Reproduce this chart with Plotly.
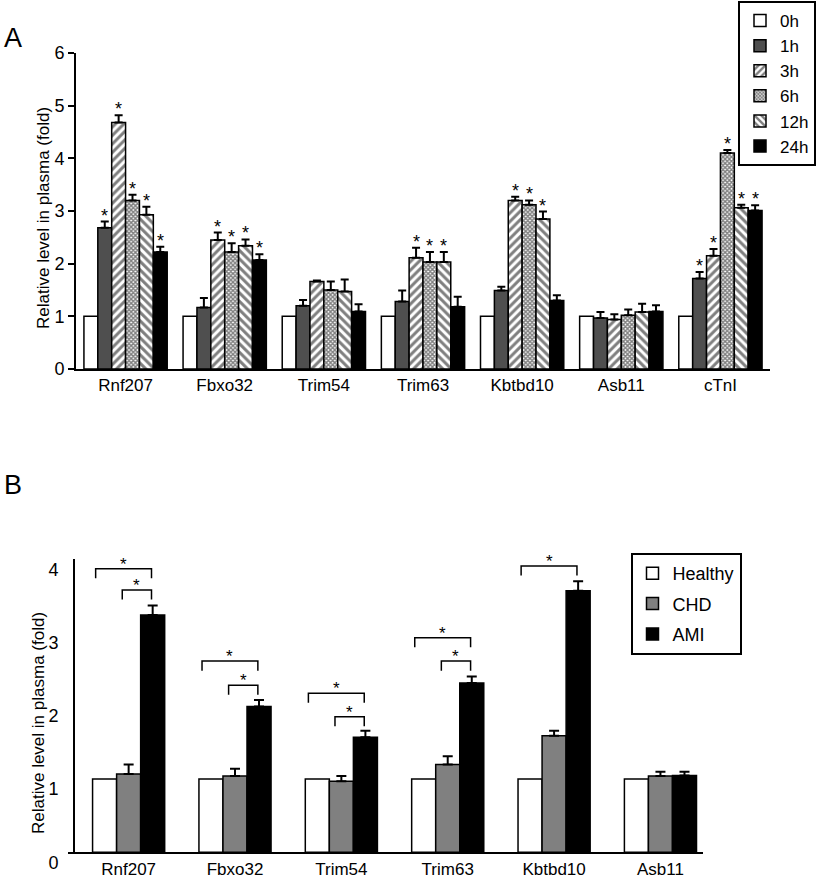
import plotly.graph_objects as go

# ---------------- Panel A data ----------------
cats_a = ["Rnf207", "Fbxo32", "Trim54", "Trim63", "Kbtbd10", "Asb11", "cTnI"]
series_a = ["0h", "1h", "3h", "6h", "12h", "24h"]
vals_0h = [1, 1, 1, 1, 1, 1, 1]
vals_1h = [2.68, 1.17, 1.20, 1.28, 1.49, 0.97, 1.72]
vals_3h = [4.68, 2.45, 1.66, 2.11, 3.20, 0.94, 2.15]
vals_6h = [3.20, 2.22, 1.50, 2.03, 3.12, 1.02, 4.10]
vals_12h = [2.93, 2.34, 1.47, 2.03, 2.85, 1.08, 3.06]
vals_24h = [2.22, 2.07, 1.09, 1.18, 1.30, 1.09, 3.01]
err_0h = [0, 0, 0, 0, 0, 0, 0]
err_1h = [0.12, 0.18, 0.11, 0.21, 0.07, 0.11, 0.12]
err_3h = [0.14, 0.14, 0.02, 0.19, 0.07, 0.10, 0.13]
err_6h = [0.11, 0.17, 0.16, 0.19, 0.08, 0.11, 0.06]
err_12h = [0.15, 0.12, 0.23, 0.19, 0.14, 0.16, 0.06]
err_24h = [0.10, 0.11, 0.14, 0.19, 0.10, 0.12, 0.10]
sig_0h = [0, 0, 0, 0, 0, 0, 0]
sig_1h = [1, 0, 0, 0, 0, 0, 1]
sig_3h = [1, 1, 0, 1, 1, 0, 1]
sig_6h = [1, 1, 0, 1, 1, 0, 1]
sig_12h = [1, 1, 0, 1, 1, 0, 1]
sig_24h = [1, 1, 0, 0, 0, 0, 1]
yticks_a = [0, 1, 2, 3, 4, 5, 6]

# ---------------- Panel B data ----------------
cats_b = ["Rnf207", "Fbxo32", "Trim54", "Trim63", "Kbtbd10", "Asb11"]
series_b = ["Healthy", "CHD", "AMI"]
vals_healthy = [1, 1, 1, 1, 1, 1]
vals_chd = [1.07, 1.04, 0.97, 1.20, 1.59, 1.04]
vals_ami = [3.24, 1.99, 1.57, 2.31, 3.57, 1.05]
err_healthy = [0, 0, 0, 0, 0, 0]
err_chd = [0.13, 0.10, 0.07, 0.11, 0.07, 0.06]
err_ami = [0.13, 0.09, 0.09, 0.09, 0.13, 0.05]
# significance brackets: (category index, from series, to series, bracket height)
brackets_b = [
    (0, 0, 2, 3.87), (0, 1, 2, 3.58),
    (1, 0, 2, 2.61), (1, 1, 2, 2.28),
    (2, 0, 2, 2.17), (2, 1, 2, 1.85),
    (3, 0, 2, 2.93), (3, 1, 2, 2.61),
    (4, 0, 2, 3.91),
]
yticks_b = [0, 1, 2, 3, 4]
ytitle = "Relative level in plasma (fold)"

FONT = "Liberation Sans, Arial, Helvetica, sans-serif"
W, H = 819, 881


def fx(px):
    return px / W


def fy(py):
    return 1 - py / H


fig = go.Figure()

# ---- Panel A bars ----
vals_a = [vals_0h, vals_1h, vals_3h, vals_6h, vals_12h, vals_24h]
errs_a = [err_0h, err_1h, err_3h, err_6h, err_12h, err_24h]
sigs_a = [sig_0h, sig_1h, sig_3h, sig_6h, sig_12h, sig_24h]
styles_a = [
    dict(color="white"),
    dict(color="#4f4f4f"),
    dict(color="white", pattern=dict(shape="/", fgcolor="black", bgcolor="white", size=6, solidity=0.5)),
    dict(color="white", pattern=dict(shape="x", fgcolor="black", bgcolor="white", size=3, solidity=0.7)),
    dict(color="white", pattern=dict(shape="\\", fgcolor="black", bgcolor="white", size=6, solidity=0.5)),
    dict(color="black"),
]
bw_a = 0.14
xs_a = list(range(len(cats_a)))
for k, name in enumerate(series_a):
    m = dict(styles_a[k])
    m["line"] = dict(color="black", width=1.5)
    fig.add_trace(go.Bar(
        x=xs_a, y=vals_a[k], name=name, marker=m,
        width=bw_a, offset=(k - 3) * bw_a,
        error_y=dict(type="data", array=errs_a[k], arrayminus=[0] * len(cats_a),
                     symmetric=False, color="black", thickness=2, width=4,
                     visible=any(e > 0 for e in errs_a[k])),
        xaxis="x", yaxis="y", legend="legend", cliponaxis=False,
    ))
    for i in range(len(cats_a)):
        if sigs_a[k][i]:
            fig.add_annotation(
                x=i + (k - 2.5) * bw_a, y=vals_a[k][i] + errs_a[k][i],
                xref="x", yref="y", text="*", showarrow=False,
                yanchor="bottom", yshift=-6,
                font=dict(family=FONT, size=18, color="black"),
            )

# ---- Panel B bars ----
vals_bb = [vals_healthy, vals_chd, vals_ami]
errs_bb = [err_healthy, err_chd, err_ami]
colors_b = ["white", "#808080", "black"]
bw_b = 0.226
xs_b = list(range(len(cats_b)))
for k, name in enumerate(series_b):
    fig.add_trace(go.Bar(
        x=xs_b, y=vals_bb[k], name=name,
        marker=dict(color=colors_b[k], line=dict(color="black", width=1.5)),
        width=bw_b, offset=(k - 1.5) * bw_b,
        error_y=dict(type="data", array=errs_bb[k], arrayminus=[0] * len(cats_b),
                     symmetric=False, color="black", thickness=2, width=5,
                     visible=any(e > 0 for e in errs_bb[k])),
        xaxis="x2", yaxis="y2", legend="legend2", cliponaxis=False,
        legendgroup=name,
    ))

# brackets
leg_off = {0: -0.31, 1: -0.06, 2: 0.215}
leg_len = 0.13
for (ci, s0, s1, yb) in brackets_b:
    xa = ci + leg_off[s0]
    xb = ci + leg_off[s1]
    fig.add_shape(type="path", xref="x2", yref="y2",
                  path=f"M{xa},{yb - leg_len} L{xa},{yb} L{xb},{yb} L{xb},{yb - leg_len}",
                  line=dict(color="black", width=1.5))
    fig.add_annotation(x=(xa + xb) / 2, y=yb, xref="x2", yref="y2", text="*",
                       showarrow=False, yanchor="bottom", yshift=-7,
                       font=dict(family=FONT, size=17, color="black"))

# panel letters
fig.add_annotation(x=fx(2), y=fy(38), xref="paper", yref="paper", text="A",
                   showarrow=False, xanchor="left", yanchor="middle",
                   font=dict(family=FONT, size=27, color="black"))
fig.add_annotation(x=fx(2), y=fy(485), xref="paper", yref="paper", text="B",
                   showarrow=False, xanchor="left", yanchor="middle",
                   font=dict(family=FONT, size=27, color="black"))

# y-axis titles
fig.add_annotation(x=fx(43), y=fy(218), xref="paper", yref="paper", text=ytitle,
                   textangle=-90, showarrow=False, xanchor="center", yanchor="middle",
                   font=dict(family=FONT, size=17, color="black"))
fig.add_annotation(x=fx(38), y=fy(723), xref="paper", yref="paper", text=ytitle,
                   textangle=-90, showarrow=False, xanchor="center", yanchor="middle",
                   font=dict(family=FONT, size=17, color="black"))

axis_common = dict(showgrid=False, zeroline=False, showline=True, linecolor="black",
                   linewidth=2)

fig.update_layout(
    width=W, height=H, margin=dict(l=0, r=0, t=0, b=0, autoexpand=False),
    paper_bgcolor="white", plot_bgcolor="white",
    barmode="overlay",
    font=dict(family=FONT, color="black"),
    xaxis=dict(domain=[fx(76), fx(770)], range=[-0.5, 6.5], tickvals=xs_a, ticktext=cats_a,
               ticks="", anchor="y", tickfont=dict(family=FONT, size=17, color="black"),
               **axis_common),
    yaxis=dict(domain=[fy(369), fy(53)], range=[0, 6], tickvals=yticks_a,
               ticks="outside", ticklen=6, tickwidth=2, tickcolor="black", anchor="x",
               tickfont=dict(family=FONT, size=18, color="black"),
               **axis_common),
    xaxis2=dict(domain=[fx(68), fx(703)], range=[-0.57, 5.4], tickvals=xs_b, ticktext=cats_b,
                ticks="", anchor="y2", tickfont=dict(family=FONT, size=17, color="black"),
                **axis_common),
    yaxis2=dict(domain=[fy(852.3), fy(559.3)], range=[0, 4], tickvals=yticks_b,
                ticks="", anchor="free", position=fx(74),
                ticklabelstandoff=11, ticklabelshift=10,
                tickfont=dict(family=FONT, size=18, color="black"),
                **axis_common),
    legend=dict(x=fx(816), y=fy(1), xanchor="right", yanchor="top",
                bordercolor="black", borderwidth=2, bgcolor="white",
                font=dict(family=FONT, size=17, color="black"),
                traceorder="normal"),
    legend2=dict(x=fx(686), y=fy(553), xanchor="center", yanchor="top",
                 bordercolor="black", borderwidth=2, bgcolor="white",
                 font=dict(family=FONT, size=18, color="black"),
                 traceorder="grouped", tracegroupgap=4),
    showlegend=True,
)

# remove the default 8px page margin so the figure fills the window exactly
fig.write_html("out.html", config={"displayModeBar": False},
               post_script="document.body.style.margin='0';")
